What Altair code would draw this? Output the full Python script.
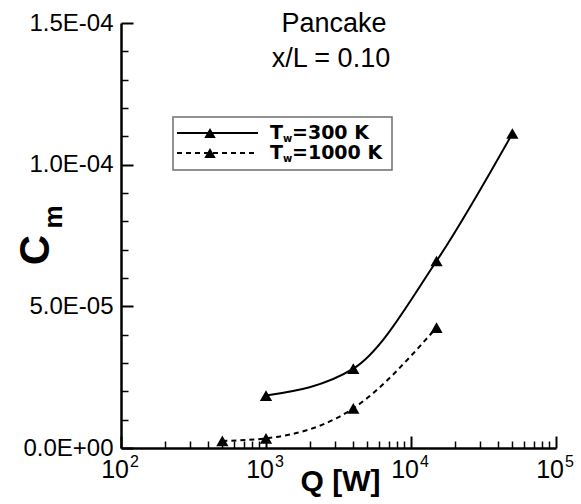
import altair as alt
import pandas as pd

# Mass coefficient C_m versus power Q, pancake configuration at x/L = 0.10
q_300 = [1000, 4000, 15000, 50000]
cm_300 = [1.85e-5, 2.8e-5, 6.6e-5, 1.11e-4]
q_1000 = [500, 1000, 4000, 15000]
cm_1000 = [2.5e-6, 3.4e-6, 1.4e-5, 4.25e-5]

series_labels = ["=300 K", "=1000 K"]

y_major = [0, 5e-5, 1e-4, 1.5e-4]
y_major_labels = ["0.0E+00", "5.0E-05", "1.0E-04", "1.5E-04"]
y_minor = [1e-5, 2e-5, 3e-5, 4e-5, 6e-5, 7e-5, 8e-5, 9e-5,
           1.1e-4, 1.2e-4, 1.3e-4, 1.4e-4]
x_major = [100, 1000, 10000, 100000]
x_exponents = ["2", "3", "4", "5"]
x_minor = [m * base for base in (100, 1000, 10000) for m in range(2, 10)]

W, H = 435, 425
FONT = "Liberation Sans"
LEGEND_FONT = "DejaVu Sans"

xscale = alt.Scale(type="log", domain=[100, 100000], nice=False)
yscale = alt.Scale(domain=[0, 1.5e-4], nice=False, zero=False)

label_expr = " : ".join(
    f"abs(datum.value - {v}) < 1e-9 ? '{s}'" for v, s in zip(y_major, y_major_labels)
) + " : ''"

one = pd.DataFrame({"k": [0]})


def y_axis_layer(values, axis):
    return alt.Chart(pd.DataFrame({"v": values})).mark_tick(opacity=0).encode(
        y=alt.Y("v:Q", scale=yscale, axis=axis)
    )


def x_axis_layer(values, axis):
    return alt.Chart(pd.DataFrame({"v": values})).mark_tick(opacity=0).encode(
        x=alt.X("v:Q", scale=xscale, axis=axis)
    )


# y axis: line + labels on the left, inward ticks drawn by right-oriented axes moved to the left edge
y_lab = y_axis_layer(y_major, alt.Axis(
    orient="left", values=y_major, labelExpr=label_expr, ticks=False, domain=True,
    domainWidth=2.5, domainColor="black", labelFont=FONT, labelFontSize=24,
    labelColor="black", labelPadding=8, grid=False, title=None))
y_maj = y_axis_layer(y_major, alt.Axis(
    orient="right", offset=-W, values=y_major, labels=False, domain=False,
    tickSize=12, tickWidth=2, tickColor="black", grid=False, title=None))
y_min = y_axis_layer(y_minor, alt.Axis(
    orient="right", offset=-W, values=y_minor, labels=False, domain=False,
    tickSize=7, tickWidth=1.5, tickColor="black", grid=False, title=None))

# x axis: line at the bottom, inward ticks from top-oriented axes moved down
x_line = x_axis_layer(x_major, alt.Axis(
    orient="bottom", values=x_major, labels=False, ticks=False, domain=True,
    domainWidth=2.5, domainColor="black", grid=False, title=None))
x_maj = x_axis_layer(x_major, alt.Axis(
    orient="top", offset=-H, values=x_major, labels=False, domain=False,
    tickSize=12, tickWidth=2, tickColor="black", grid=False, title=None))
x_min = x_axis_layer(x_minor, alt.Axis(
    orient="top", offset=-H, values=x_minor, labels=False, domain=False,
    tickSize=7, tickWidth=1.5, tickColor="black", grid=False, title=None))

# decade labels 10^n
xl = pd.DataFrame({"q": x_major, "e": x_exponents})
x_tens = alt.Chart(xl).mark_text(
    text="10", align="right", baseline="alphabetic", dx=8, font=FONT,
    fontSize=25, color="black"
).encode(x=alt.X("q:Q", scale=xscale, axis=None), y=alt.value(H + 30))
x_exp = alt.Chart(xl).mark_text(
    align="left", baseline="alphabetic", dx=9, font=FONT, fontSize=16, color="black"
).encode(x=alt.X("q:Q", scale=xscale, axis=None), y=alt.value(H + 19), text="e:N")

x_title = alt.Chart(one).mark_text(
    text="Q [W]", font=FONT, fontSize=30, fontWeight="bold", align="center",
    baseline="alphabetic", color="black"
).encode(x=alt.value(W / 2 + 2), y=alt.value(H + 43))

y_title_c = alt.Chart(one).mark_text(
    text="C", font=FONT, fontSize=42, fontWeight="bold", angle=270, align="center",
    baseline="alphabetic", color="black"
).encode(x=alt.value(-72), y=alt.value(227))
y_title_m = alt.Chart(one).mark_text(
    text="m", font=FONT, fontSize=26, fontWeight="bold", angle=270, align="center",
    baseline="alphabetic", color="black"
).encode(x=alt.value(-59), y=alt.value(194))

title_1 = alt.Chart(one).mark_text(
    text="Pancake", font=FONT, fontSize=27, align="center", baseline="alphabetic",
    color="black"
).encode(x=alt.value(213), y=alt.value(9))
title_2 = alt.Chart(one).mark_text(
    text="x/L = 0.10", font=FONT, fontSize=27, align="center", baseline="alphabetic",
    color="black"
).encode(x=alt.value(210), y=alt.value(44))

# data curves
d300 = pd.DataFrame({"q": q_300, "cm": cm_300})
d1000 = pd.DataFrame({"q": q_1000, "cm": cm_1000})
enc = dict(
    x=alt.X("q:Q", scale=xscale, axis=None),
    y=alt.Y("cm:Q", scale=yscale, axis=None),
)
line_300 = alt.Chart(d300).mark_line(
    color="black", strokeWidth=2, interpolate="monotone").encode(**enc)
pts_300 = alt.Chart(d300).mark_point(
    shape="triangle-up", filled=True, size=150, color="black", opacity=1).encode(**enc)
line_1000 = alt.Chart(d1000).mark_line(
    color="black", strokeWidth=2, strokeDash=[5, 4], interpolate="monotone").encode(**enc)
pts_1000 = alt.Chart(d1000).mark_point(
    shape="triangle-up", filled=True, size=150, color="black", opacity=1).encode(**enc)

# legend box
lx0, lx1, ly0, ly1 = 52, 271, 94, 147
row_y = [110, 130]
legend_box = alt.Chart(one).mark_rect(
    fill="white", stroke="#6e6e6e", strokeWidth=1.5
).encode(x=alt.value(lx0), x2=alt.value(lx1), y=alt.value(ly0), y2=alt.value(ly1))
legend_layers = [legend_box]
for i, (lab, dash) in enumerate(zip(series_labels, [[1, 0], [5, 4]])):
    ry = row_y[i]
    legend_layers.append(alt.Chart(one).mark_rule(
        color="black", strokeWidth=2, strokeDash=dash
    ).encode(x=alt.value(56), x2=alt.value(137), y=alt.value(ry)))
    legend_layers.append(alt.Chart(one).mark_point(
        shape="triangle-up", filled=True, size=130, color="black", opacity=1
    ).encode(x=alt.value(89), y=alt.value(ry)))
    legend_layers.append(alt.Chart(one).mark_text(
        text="T", font=LEGEND_FONT, fontSize=19, fontWeight="bold", align="left",
        baseline="alphabetic", color="black"
    ).encode(x=alt.value(149), y=alt.value(ry + 6)))
    legend_layers.append(alt.Chart(one).mark_text(
        text="w", font=LEGEND_FONT, fontSize=10, fontWeight="bold", align="left",
        baseline="alphabetic", color="black"
    ).encode(x=alt.value(162), y=alt.value(ry + 9)))
    legend_layers.append(alt.Chart(one).mark_text(
        text=lab, font=LEGEND_FONT, fontSize=19, fontWeight="bold", align="left",
        baseline="alphabetic", color="black"
    ).encode(x=alt.value(171), y=alt.value(ry + 6)))

chart = alt.layer(
    y_lab, y_maj, y_min, x_line, x_maj, x_min,
    line_300, line_1000, pts_300, pts_1000,
    x_tens, x_exp, x_title, y_title_c, y_title_m, title_1, title_2,
    *legend_layers,
).resolve_axis(x="independent", y="independent").properties(
    width=W, height=H,
    padding={"left": 121, "top": 23, "right": 25, "bottom": 56},
    autosize=alt.AutoSizeParams(type="none"),
    background="white",
).configure_view(stroke=None)

chart.save("out.html", embed_options={"renderer": "svg", "actions": False})
